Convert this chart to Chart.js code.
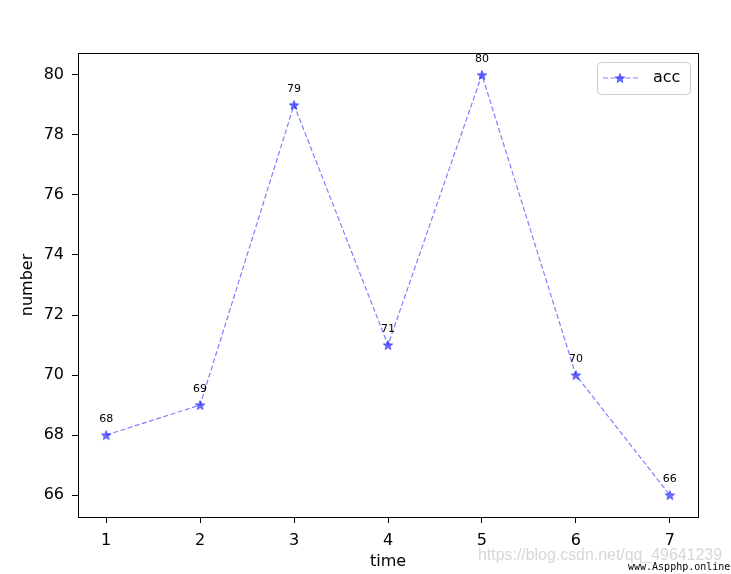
<!DOCTYPE html>
<html lang="en">
<head>
  <meta charset="UTF-8" />
  <title>acc over time</title>
  <script src="https://cdn.jsdelivr.net/npm/chart.js"></script>
  <style>
    html, body { margin: 0; padding: 0; background: #fff; }
    #chart { display: block; }
  </style>
</head>
<body>
  <canvas id="chart" width="731" height="574"></canvas>
  <script>
    const times = [1, 2, 3, 4, 5, 6, 7];
    const acc = [68, 69, 79, 71, 80, 70, 66];
    const xTicks = [1, 2, 3, 4, 5, 6, 7];
    const yTicks = [66, 68, 70, 72, 74, 76, 78, 80];
    const seriesName = "acc";

    const blue = "rgba(0,0,255,0.5)";
    const font = "DejaVu Sans";

    // matplotlib-like filled five point star marker
    function makeStar(r) {
      const c = document.createElement("canvas");
      const size = Math.ceil(r * 2 + 2);
      c.width = size; c.height = size;
      const g = c.getContext("2d");
      const cx = size / 2, cy = size / 2 + 0.5;
      g.beginPath();
      for (let i = 0; i < 10; i++) {
        const rad = i % 2 === 0 ? r : r * 0.42;
        const a = -Math.PI / 2 + i * Math.PI / 5;
        const px = cx + rad * Math.cos(a), py = cy + rad * Math.sin(a);
        if (i === 0) g.moveTo(px, py); else g.lineTo(px, py);
      }
      g.closePath();
      g.fillStyle = "rgba(0,0,255,0.55)";
      g.fill();
      g.lineWidth = 1;
      g.strokeStyle = "rgba(0,0,255,0.5)";
      g.stroke();
      return c;
    }
    const star = makeStar(5);

    const framePlugin = {
      id: "frame",
      afterDraw(chart) {
        const { ctx, chartArea: a } = chart;
        ctx.save();
        ctx.strokeStyle = "#000";
        ctx.lineWidth = 1;
        ctx.strokeRect(Math.round(a.left) + 0.5, Math.round(a.top) + 0.5,
          Math.round(a.right - a.left), Math.round(a.bottom - a.top));

        // value labels above each point
        const meta = chart.getDatasetMeta(0);
        ctx.fillStyle = "#000";
        ctx.font = "11px '" + font + "'";
        ctx.textAlign = "center";
        ctx.textBaseline = "middle";
        meta.data.forEach((pt, i) => {
          ctx.fillText(String(acc[i]), pt.x, pt.y - 16);
        });

        // legend box
        const lx = a.right - 101, ly = a.top + 9, lw = 93, lh = 32;
        ctx.beginPath();
        ctx.roundRect(lx + 0.5, ly + 0.5, lw, lh, 4);
        ctx.fillStyle = "rgba(255,255,255,0.8)";
        ctx.fill();
        ctx.strokeStyle = "#cccccc";
        ctx.stroke();
        ctx.beginPath();
        ctx.setLineDash([5, 2.5]);
        ctx.strokeStyle = blue;
        ctx.lineWidth = 1.2;
        ctx.moveTo(lx + 6, ly + 16);
        ctx.lineTo(lx + 41, ly + 16);
        ctx.stroke();
        ctx.setLineDash([]);
        ctx.drawImage(star, lx + 23 - star.width / 2, ly + 16 - star.height / 2);
        ctx.fillStyle = "#000";
        ctx.font = "16px '" + font + "'";
        ctx.textAlign = "left";
        ctx.fillText(seriesName, lx + 56, ly + 16);

        // watermark texts
        ctx.font = "16px 'Liberation Sans'";
        ctx.fillStyle = "rgba(205,205,205,0.8)";
        ctx.textAlign = "left";
        ctx.fillText("https://blog.csdn.net/qq_49641239", 478, 556, 244);
        ctx.font = "10px 'DejaVu Sans Mono'";
        ctx.fillStyle = "#000";
        ctx.fillText("www.Aspphp.online", 628, 567);
        ctx.restore();
      }
    };

    new Chart(document.getElementById("chart"), {
      type: "line",
      data: {
        datasets: [{
          label: seriesName,
          data: times.map((t, i) => ({ x: t, y: acc[i] })),
          borderColor: blue,
          borderWidth: 1.2,
          borderDash: [5, 2.5],
          pointStyle: star,
          pointRadius: 5,
          tension: 0,
          fill: false
        }]
      },
      options: {
        responsive: false,
        animation: false,
        devicePixelRatio: 1,
        layout: { padding: { left: 0, top: 53, right: 33, bottom: 0 } },
        plugins: { legend: { display: false }, tooltip: { enabled: false } },
        scales: {
          x: {
            type: "linear",
            min: 0.7,
            max: 7.3,
            afterBuildTicks: s => { s.ticks = xTicks.map(v => ({ value: v })); },
            afterFit: s => { s.height = 57; },
            grid: { drawOnChartArea: false, drawTicks: true, tickLength: 6, color: "#000" },
            border: { display: true, color: "#000" },
            ticks: { color: "#000", padding: 8, font: { family: font, size: 16 } },
            title: { display: true, text: "time", color: "#000", padding: { top: 0, bottom: 3 }, font: { family: font, size: 16 } }
          },
          y: {
            min: 65.27,
            max: 80.73,
            afterBuildTicks: s => { s.ticks = yTicks.map(v => ({ value: v })); },
            afterFit: s => { s.width = 78; },
            grid: { drawOnChartArea: false, drawTicks: true, tickLength: 6, color: "#000" },
            border: { display: true, color: "#000" },
            ticks: { color: "#000", padding: 8, font: { family: font, size: 16 } },
            title: { display: true, text: "number", color: "#000", padding: { top: 18, bottom: 0 }, font: { family: font, size: 16 } }
          }
        }
      },
      plugins: [framePlugin]
    });
  </script>
</body>
</html>
